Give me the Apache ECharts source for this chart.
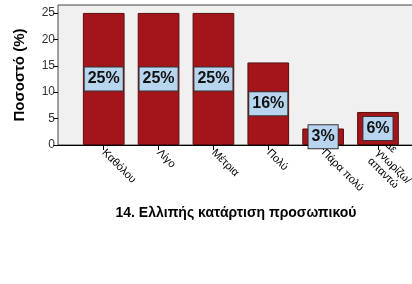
<!DOCTYPE html>
<html>
<head>
<meta charset="utf-8">
<script src="https://cdn.jsdelivr.net/npm/echarts@6/dist/echarts.min.js"></script>
<style>html,body{margin:0;padding:0;background:#fff}#c{width:412px;height:284px}</style>
</head>
<body>
<div id="c"></div>
<script>
var categories = ['Καθόλου', 'Λίγο', 'Μέτρια', 'Πολύ', 'Πάρα πολύ', 'Δε\nγνωρίζω/\nαπαντώ'];
var values = [25, 25, 25, 15.625, 3.125, 6.25];
var yTicks = [0, 5, 10, 15, 20, 25];
var yTitle = 'Ποσοστό (%)';
var xTitle = '14. Ελλιπής κατάρτιση προσωπικού';

var FONT = '"Liberation Sans", Arial, sans-serif';
var chart = echarts.init(document.getElementById('c'), null, {renderer: 'canvas'});
var YMAX = 26.5;
chart.setOption({
  animation: false,
  backgroundColor: '#ffffff',
  grid: [
    {left: 58, top: 5, width: 380, height: 140, show: true, backgroundColor: '#f0f0f0', borderColor: '#444', borderWidth: 1, containLabel: false, outerBoundsMode: 'none'},
    {left: 76.3, top: 5, width: 329.1, height: 140, containLabel: false, outerBoundsMode: 'none'}
  ],
  xAxis: [
    {gridIndex: 0, type: 'value', min: 0, max: 1, axisLine: {show: true, lineStyle: {color: '#000', width: 1}}, axisTick: {show: false}, axisLabel: {show: false}, splitLine: {show: false}},
    {gridIndex: 1, type: 'category', data: categories, axisLine: {show: false},
      axisTick: {show: true, alignWithLabel: true, length: 5, lineStyle: {color: '#000'}},
      axisLabel: {rotate: -45, fontSize: 11, color: '#000', fontFamily: FONT, margin: 6, interval: 0, lineHeight: 12, hideOverlap: false}}
  ],
  yAxis: [
    {gridIndex: 0, type: 'value', min: 0, max: YMAX,
      axisLine: {show: false},
      axisTick: {show: true, length: 5, lineStyle: {color: '#000'}, customValues: yTicks},
      axisLabel: {fontSize: 12, color: '#333', fontFamily: FONT, margin: 3, customValues: yTicks},
      splitLine: {show: false}},
    {gridIndex: 1, type: 'value', min: 0, max: YMAX, show: false}
  ],
  graphic: [
    {type: 'text', x: 20, y: 75, rotation: Math.PI / 2, style: {text: yTitle, font: 'bold 15px ' + FONT, fill: '#000', align: 'center', verticalAlign: 'middle'}},
    {type: 'text', x: 236, y: 213, style: {text: xTitle, font: 'bold 14px ' + FONT, fill: '#000', align: 'center', verticalAlign: 'middle'}}
  ],
  series: [{
    type: 'bar', xAxisIndex: 1, yAxisIndex: 1, data: values, barCategoryGap: '24%',
    itemStyle: {color: '#a3141b', borderColor: '#5a0e0e', borderWidth: 1},
    label: {show: true, position: 'inside', formatter: function (p) { return Math.round(p.value) + '%'; },
      fontSize: 16, fontWeight: 'bold', color: '#111', fontFamily: FONT,
      backgroundColor: '#b8d5ef', borderColor: '#333', borderWidth: 1, padding: [4, 3, 3, 3]}
  }]
});
</script>
</body>
</html>
